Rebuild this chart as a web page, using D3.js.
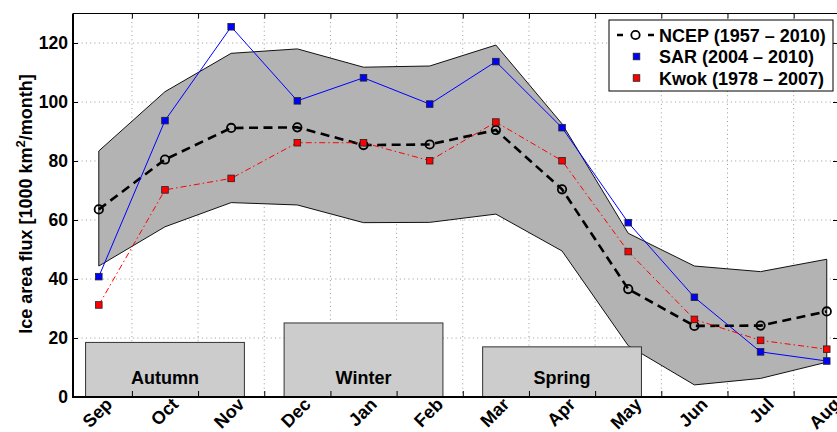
<!DOCTYPE html>
<html>
<head>
<meta charset="utf-8">
<script src="https://cdn.jsdelivr.net/npm/d3@7"></script>
<style>
  html, body { margin: 0; padding: 0; background: #fff; }
  svg { display: block; font-family: "Liberation Sans", Arial, sans-serif; font-weight: bold; }
</style>
</head>
<body>
<svg id="chart" width="837" height="432"></svg>
<script>
// Monthly mean ice area flux, Sep through Aug
const months = ["Sep", "Oct", "Nov", "Dec", "Jan", "Feb", "Mar", "Apr", "May", "Jun", "Jul", "Aug"];
const ncep  = [63.6, 80.5, 91.2, 91.4, 85.4, 85.6, 90.5, 70.4, 36.6, 24.1, 24.2, 29.0];
const sar   = [40.8, 93.7, 125.5, 100.4, 108.2, 99.3, 113.7, 91.3, 59.1, 33.8, 15.3, 12.2];
const kwok  = [31.2, 70.2, 74.1, 86.2, 86.2, 80.1, 93.2, 80.1, 49.3, 26.3, 19.2, 16.2];
// NCEP spread envelope
const bandUpper = [83.4, 103.5, 116.5, 118.0, 111.8, 112.2, 119.3, 92.6, 55.5, 44.4, 42.5, 46.7];
const bandLower = [44.4, 57.7, 65.9, 65.1, 59.1, 59.2, 62.0, 49.5, 17.4, 4.1, 6.3, 11.8];
// Season blocks: first/last month index and block height
const seasonNames = ["Autumn", "Winter", "Spring"];
const seasonStart = [0, 3, 6];
const seasonEnd   = [2, 5, 8];
const seasonTop   = [18.5, 25.1, 17.0];
const yTicks = [0, 20, 40, 60, 80, 100, 120];
const legendLabels = ["NCEP (1957 \u2013 2010)", "SAR (2004 \u2013 2010)", "Kwok (1978 \u2013 2007)"];

const svg = d3.select("#chart");
const pLeft = 73, pRight = 838, pTop = 13.5, pBottom = 397;

const x = d3.scaleLinear().domain([-0.39, 11.17]).range([pLeft, pRight]);
const y = d3.scaleLinear().domain([0, 130]).range([pBottom, pTop]);

const idx = months.map((_, i) => i);
const halfTicks = idx.slice(0, -1).map(i => i + 0.5);

// grid
const grid = svg.append("g").attr("stroke", "#9a9a9a").attr("stroke-width", 1).attr("stroke-dasharray", "1,3.3");
grid.selectAll("line.h").data(yTicks.filter(v => v > 0)).join("line").attr("class", "h")
  .attr("x1", pLeft).attr("x2", pRight).attr("y1", d => y(d)).attr("y2", d => y(d));
grid.selectAll("line.v").data(halfTicks).join("line").attr("class", "v")
  .attr("y1", pTop).attr("y2", pBottom).attr("x1", d => x(d)).attr("x2", d => x(d));

// envelope
const bandArea = d3.area().x(i => x(i)).y0(i => y(bandLower[i])).y1(i => y(bandUpper[i]));
svg.append("path").datum(idx).attr("d", bandArea).attr("fill", "#b3b3b3").attr("stroke", "none");
svg.append("path").datum(idx).attr("d", d3.line().x(i => x(i)).y(i => y(bandUpper[i])))
  .attr("fill", "none").attr("stroke", "#111").attr("stroke-width", 1);
svg.append("path").datum(idx).attr("d", d3.line().x(i => x(i)).y(i => y(bandLower[i])))
  .attr("fill", "none").attr("stroke", "#111").attr("stroke-width", 1);
svg.append("line").attr("x1", x(0)).attr("x2", x(0)).attr("y1", y(bandLower[0])).attr("y2", y(bandUpper[0])).attr("stroke", "#111");
svg.append("line").attr("x1", x(11)).attr("x2", x(11)).attr("y1", y(bandLower[11])).attr("y2", y(bandUpper[11])).attr("stroke", "#111");

// season blocks
const seasons = svg.append("g");
seasonNames.forEach((name, k) => {
  const x0 = x(seasonStart[k] - 0.2), x1 = x(seasonEnd[k] + 0.2);
  seasons.append("rect").attr("x", x0).attr("y", y(seasonTop[k]))
    .attr("width", x1 - x0).attr("height", y(0) - y(seasonTop[k]))
    .attr("fill", "#cccccc").attr("stroke", "#333").attr("stroke-width", 1);
  seasons.append("text").attr("x", (x0 + x1) / 2).attr("y", 383.5)
    .attr("text-anchor", "middle").attr("font-size", 18).attr("fill", "#000").text(name);
});

// series
const lineOf = vals => d3.line().x(i => x(i)).y(i => y(vals[i]));
svg.append("path").datum(idx).attr("d", lineOf(ncep)).attr("fill", "none")
  .attr("stroke", "#000").attr("stroke-width", 2.6).attr("stroke-dasharray", "9,5.5");
svg.append("g").selectAll("circle").data(idx).join("circle")
  .attr("cx", i => x(i)).attr("cy", i => y(ncep[i])).attr("r", 4.2)
  .attr("fill", "none").attr("stroke", "#000").attr("stroke-width", 1.8);

svg.append("path").datum(idx).attr("d", lineOf(sar)).attr("fill", "none")
  .attr("stroke", "#0000ff").attr("stroke-width", 1);
svg.append("g").selectAll("rect").data(idx).join("rect")
  .attr("x", i => x(i) - 3.3).attr("y", i => y(sar[i]) - 3.3).attr("width", 6.6).attr("height", 6.6)
  .attr("fill", "#0000ff").attr("stroke", "#222").attr("stroke-width", 0.8);

svg.append("path").datum(idx).attr("d", lineOf(kwok)).attr("fill", "none")
  .attr("stroke", "#ff0000").attr("stroke-width", 1).attr("stroke-dasharray", "6,3,1.5,3");
svg.append("g").selectAll("rect").data(idx).join("rect")
  .attr("x", i => x(i) - 3.3).attr("y", i => y(kwok[i]) - 3.3).attr("width", 6.6).attr("height", 6.6)
  .attr("fill", "#ff0000").attr("stroke", "#222").attr("stroke-width", 0.8);

// axes frame and inward ticks
const axL = svg.append("g").attr("transform", `translate(${pLeft},0)`)
  .call(d3.axisRight(y).tickValues(yTicks).tickSize(5).tickFormat(""));
const axR = svg.append("g").attr("transform", `translate(${pRight},0)`)
  .call(d3.axisLeft(y).tickValues(yTicks).tickSize(5).tickFormat(""));
const axB = svg.append("g").attr("transform", `translate(0,${pBottom})`)
  .call(d3.axisTop(x).tickValues(halfTicks).tickSize(6).tickFormat(""));
const axT = svg.append("g").attr("transform", `translate(0,${pTop})`)
  .call(d3.axisBottom(x).tickValues(halfTicks).tickSize(5).tickFormat(""));
[axL, axR, axB, axT].forEach(g => {
  g.select(".domain").remove();
  g.selectAll(".tick line").attr("stroke", "#000").attr("stroke-width", 1);
});
svg.append("line").attr("x1", pLeft).attr("x2", pRight).attr("y1", pTop).attr("y2", pTop).attr("stroke", "#000").attr("stroke-width", 1);
svg.append("line").attr("x1", pLeft).attr("x2", pLeft).attr("y1", pTop).attr("y2", pBottom).attr("stroke", "#000").attr("stroke-width", 2);
svg.append("line").attr("x1", pLeft - 1).attr("x2", pRight).attr("y1", pBottom).attr("y2", pBottom).attr("stroke", "#000").attr("stroke-width", 2);

// y tick labels
svg.append("g").selectAll("text").data(yTicks).join("text")
  .attr("x", 68).attr("y", d => y(d) + 6.3).attr("text-anchor", "end")
  .attr("font-size", 17.5).attr("fill", "#000").text(d => d);

// month labels
svg.append("g").selectAll("text").data(idx).join("text")
  .attr("transform", i => `translate(${x(i) + 14.5},${pBottom + 8.5}) rotate(-45)`)
  .attr("text-anchor", "end").attr("font-size", 18).attr("fill", "#000").text(i => months[i]);

// y axis title
const yt = svg.append("text").attr("transform", "translate(32,204) rotate(-90)")
  .attr("text-anchor", "middle").attr("font-size", 18).attr("fill", "#000");
yt.append("tspan").text("Ice area flux [1000 km");
yt.append("tspan").attr("dy", -7.5).attr("font-size", 13).text("2");
yt.append("tspan").attr("dy", 7.5).text("/month]");

// legend
const lg = svg.append("g");
lg.append("rect").attr("x", 609).attr("y", 20).attr("width", 224).attr("height", 71)
  .attr("fill", "#fff").attr("stroke", "#000").attr("stroke-width", 1);
const rows = [35, 56.5, 78];
lg.append("line").attr("x1", 617).attr("x2", 654).attr("y1", rows[0]).attr("y2", rows[0])
  .attr("stroke", "#000").attr("stroke-width", 2.6).attr("stroke-dasharray", "6,9.5");
lg.append("circle").attr("cx", 635.5).attr("cy", rows[0]).attr("r", 4.2)
  .attr("fill", "#fff").attr("stroke", "#000").attr("stroke-width", 1.8);
lg.append("rect").attr("x", 636.5 - 3.3).attr("y", rows[1] - 3.3).attr("width", 6.6).attr("height", 6.6)
  .attr("fill", "#0000ff").attr("stroke", "#222").attr("stroke-width", 0.8);
lg.append("rect").attr("x", 636.5 - 3.3).attr("y", rows[2] - 3.3).attr("width", 6.6).attr("height", 6.6)
  .attr("fill", "#ff0000").attr("stroke", "#222").attr("stroke-width", 0.8);
lg.selectAll("text").data(legendLabels).join("text")
  .attr("x", 659).attr("y", (d, k) => rows[k] + 6.5).attr("font-size", 18).attr("fill", "#000").text(d => d);
</script>
</body>
</html>
